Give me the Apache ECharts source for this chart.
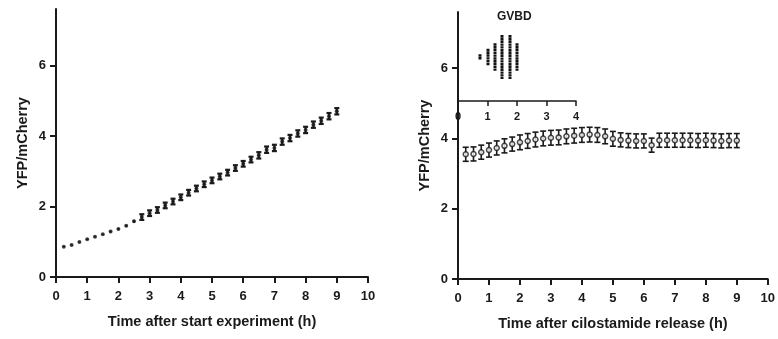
<!DOCTYPE html>
<html>
<head>
<meta charset="utf-8">
<script src="https://cdn.jsdelivr.net/npm/echarts@6/dist/echarts.min.js"></script>
<style>
html,body{margin:0;padding:0;background:#fff;}
#chart{width:778px;height:339px;}
</style>
</head>
<body>
<div id="chart"></div>
<script>
// ---- data ----
const leftTimes = [0.25,0.5,0.75,1,1.25,1.5,1.75,2,2.25,2.5,2.75,3,3.25,3.5,3.75,4,4.25,4.5,4.75,5,5.25,5.5,5.75,6,6.25,6.5,6.75,7,7.25,7.5,7.75,8,8.25,8.5,8.75,9];
const leftValues = [0.86,0.91,0.99,1.07,1.14,1.21,1.29,1.36,1.45,1.58,1.70,1.81,1.90,2.03,2.14,2.26,2.39,2.51,2.63,2.74,2.85,2.96,3.09,3.21,3.33,3.45,3.61,3.66,3.84,3.94,4.07,4.17,4.32,4.43,4.56,4.70];
const leftErrors = [0.02,0.02,0.02,0.02,0.02,0.02,0.03,0.03,0.03,0.04,0.08,0.08,0.08,0.08,0.08,0.08,0.08,0.08,0.08,0.08,0.08,0.08,0.08,0.08,0.08,0.09,0.09,0.09,0.09,0.09,0.09,0.09,0.09,0.09,0.09,0.09];

const rightTimes = [0.25,0.5,0.75,1,1.25,1.5,1.75,2,2.25,2.5,2.75,3,3.25,3.5,3.75,4,4.25,4.5,4.75,5,5.25,5.5,5.75,6,6.25,6.5,6.75,7,7.25,7.5,7.75,8,8.25,8.5,8.75,9];
const rightValues = [3.55,3.56,3.61,3.67,3.73,3.79,3.84,3.89,3.93,3.97,4.00,4.02,4.03,4.06,4.08,4.10,4.11,4.10,4.06,3.99,3.96,3.94,3.93,3.93,3.81,3.95,3.95,3.95,3.95,3.95,3.94,3.95,3.94,3.93,3.94,3.94];
const rightErrors = [0.2,0.2,0.2,0.2,0.2,0.2,0.2,0.21,0.21,0.21,0.21,0.21,0.21,0.21,0.21,0.21,0.21,0.21,0.21,0.21,0.2,0.2,0.2,0.2,0.2,0.2,0.2,0.2,0.2,0.2,0.2,0.2,0.2,0.2,0.2,0.2];

const gvbdTimes = [0.75,1,1.25,1.5,1.75,2];
const gvbdCounts = [2,6,10,16,16,10];

const xTicks = [0,1,2,3,4,5,6,7,8,9,10];
const yTicks = [0,2,4,6];
const insetTicks = [0,1,2,3,4];

const leftXTitle = 'Time after start experiment (h)';
const rightXTitle = 'Time after cilostamide release (h)';
const yTitle = 'YFP/mCherry';
const insetTitle = 'GVBD';

// ---- build ----
const INK = '#1a1a1a';
const FONT = '"Liberation Sans", Arial, sans-serif';

function triples(xs, ys, es){ return xs.map((x,i)=>[x, ys[i], es[i]]); }
function pairs(xs, ys){ return xs.map((x,i)=>[x, ys[i]]); }

function errorBar(capW, lw, minPix){
  return function(params, api){
    const x = api.value(0), y = api.value(1), e = api.value(2);
    const hi = api.coord([x, y + e]);
    const lo = api.coord([x, y - e]);
    const style = {stroke: INK, lineWidth: lw};
    const children = [{type:'line', shape:{x1:hi[0], y1:hi[1], x2:lo[0], y2:lo[1]}, style}];
    if (Math.abs(lo[1]-hi[1]) / 2 > minPix) {
      const h = capW/2;
      children.push({type:'line', shape:{x1:hi[0]-h, y1:hi[1], x2:hi[0]+h, y2:hi[1]}, style});
      children.push({type:'line', shape:{x1:lo[0]-h, y1:lo[1], x2:lo[0]+h, y2:lo[1]}, style});
    }
    return {type:'group', children};
  };
}

function columnItem(params, api){
  const x = api.value(0), n = api.value(1);
  const top = api.coord([x, n/2]);
  const bot = api.coord([x, -n/2]);
  const cx = Math.round(top[0]);
  return {type:'line', shape:{x1:cx, y1:top[1], x2:cx, y2:bot[1]},
          style:{stroke:'#111', lineWidth:3, lineDash:[2.4,0.4]}};
}

function mainX(gridIndex, name){
  return {
    gridIndex, type:'value', min:0, max:10, interval:1,
    axisLine:{show:true, onZero:false, lineStyle:{color:INK, width:2}},
    axisTick:{show:true, length:6, lineStyle:{color:INK, width:2}, customValues: xTicks},
    axisLabel:{margin:13, fontSize:13, fontWeight:'bold', color:INK, fontFamily:FONT, customValues: xTicks},
    splitLine:{show:false},
    name, nameLocation:'middle', nameGap:37,
    nameTextStyle:{fontSize:14.5, fontWeight:'bold', color:INK, fontFamily:FONT}
  };
}
function mainY(gridIndex){
  return {
    gridIndex, type:'value', min:0, max:7.6, interval:2,
    axisLine:{show:true, onZero:false, lineStyle:{color:INK, width:2}},
    axisTick:{show:true, length:6, lineStyle:{color:INK, width:2}, customValues: yTicks},
    axisLabel:{margin:10, fontSize:13, fontWeight:'bold', color:INK, fontFamily:FONT, customValues: yTicks},
    splitLine:{show:false},
    name: yTitle, nameLocation:'middle', nameGap:26,
    nameTextStyle:{fontSize:14.5, fontWeight:'bold', color:INK, fontFamily:FONT}
  };
}

const option = {
  animation:false,
  backgroundColor:'#fff',
  grid:[
    {left:56, right:410, top:9, bottom:62},
    {left:458, right:9, top:12, bottom:60},
    {left:458, width:118, top:13, bottom:238}
  ],
  xAxis:[
    mainX(0, leftXTitle),
    mainX(1, rightXTitle),
    {
      gridIndex:2, type:'value', min:0, max:4, interval:1,
      axisLine:{show:true, onZero:false, lineStyle:{color:INK, width:1.5}},
      axisTick:{show:true, length:5, lineStyle:{color:INK, width:1.5}, customValues: insetTicks},
      axisLabel:{margin:10, fontSize:11, fontWeight:'bold', color:INK, fontFamily:FONT, customValues: insetTicks},
      splitLine:{show:false}
    }
  ],
  yAxis:[
    mainY(0),
    mainY(1),
    {gridIndex:2, type:'value', min:-16, max:16, show:false, splitLine:{show:false}}
  ],
  graphic:[
    {type:'text', left:497, top:11, style:{text:insetTitle, fontSize:12, fontWeight:'bold', fill:INK, fontFamily:FONT}}
  ],
  series:[
    {type:'custom', xAxisIndex:0, yAxisIndex:0, renderItem: errorBar(5, 2.2, 2),
     data: triples(leftTimes, leftValues, leftErrors), z:2},
    {type:'scatter', xAxisIndex:0, yAxisIndex:0, symbol:'circle', symbolSize:4,
     itemStyle:{color:INK}, data: pairs(leftTimes, leftValues), z:3},
    {type:'custom', xAxisIndex:1, yAxisIndex:1, renderItem: errorBar(6, 1.6, 0),
     data: triples(rightTimes, rightValues, rightErrors), z:2},
    {type:'scatter', xAxisIndex:1, yAxisIndex:1, symbol:'circle', symbolSize:5,
     itemStyle:{color:'#fff', borderColor:INK, borderWidth:1.5}, data: pairs(rightTimes, rightValues), z:3},
    {type:'custom', xAxisIndex:2, yAxisIndex:2, renderItem: columnItem,
     data: pairs(gvbdTimes, gvbdCounts), z:3}
  ]
};

const chart = echarts.init(document.getElementById('chart'), null, {renderer:'canvas'});
chart.setOption(option);
</script>
</body>
</html>
